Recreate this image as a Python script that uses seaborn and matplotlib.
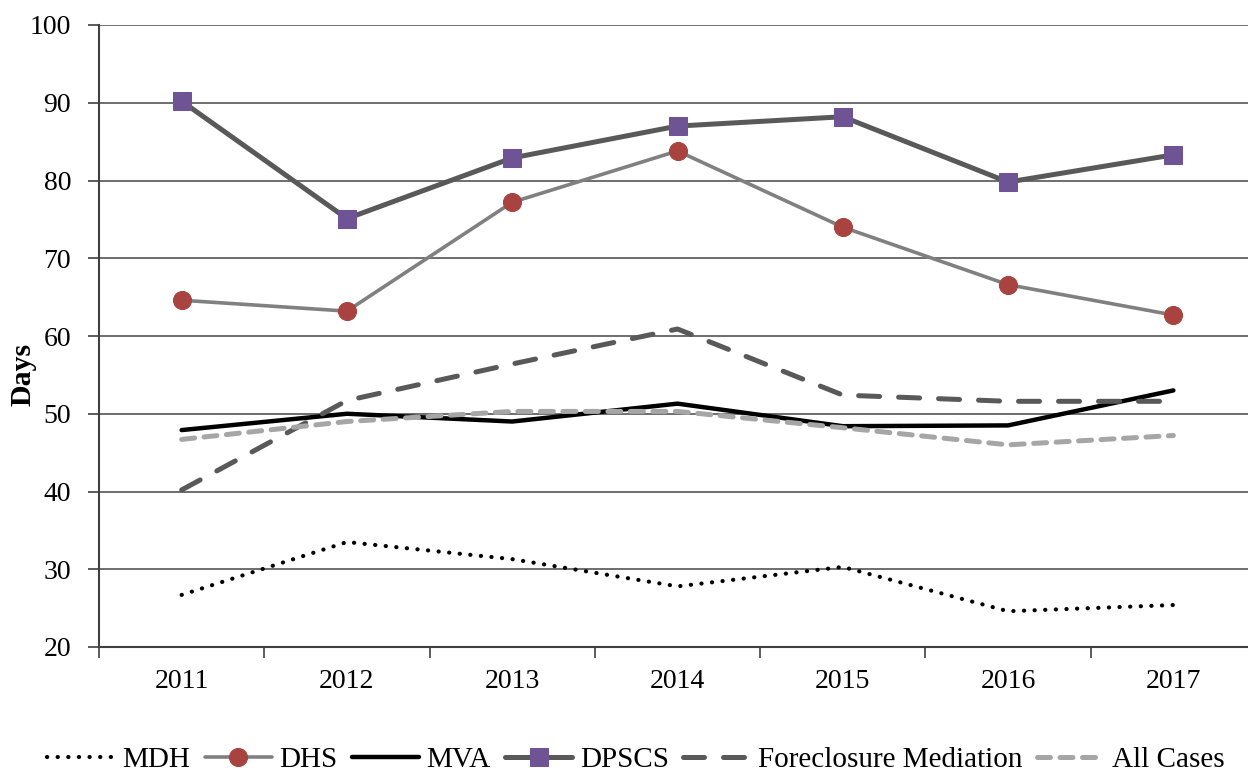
import matplotlib
matplotlib.use("Agg")
import matplotlib.pyplot as plt
import seaborn as sns
import pandas as pd

years = ["2011", "2012", "2013", "2014", "2015", "2016", "2017"]
mdh = [26.7, 33.5, 31.3, 27.8, 30.3, 24.6, 25.4]
dhs = [64.6, 63.2, 77.2, 83.8, 74.0, 66.6, 62.7]
mva = [47.9, 50.0, 49.0, 51.3, 48.4, 48.5, 53.0]
dpscs = [90.2, 75.1, 82.9, 87.0, 88.2, 79.8, 83.3]
foreclosure = [40.2, 51.7, 56.4, 60.9, 52.4, 51.6, 51.6]
all_cases = [46.7, 49.0, 50.3, 50.3, 48.2, 46.0, 47.2]

sns.set_theme(style="white")
plt.rcParams["font.family"] = ["Liberation Serif", "DejaVu Serif"]
plt.rcParams["text.color"] = "black"
plt.rcParams["xtick.labelcolor"] = "black"
plt.rcParams["ytick.labelcolor"] = "black"

fig = plt.figure(figsize=(12.48, 7.74), dpi=100)
ax = fig.add_axes([99 / 1248, 1 - 647 / 774, 1157 / 1248, (647 - 25) / 774])

pos = list(range(len(years)))
df = pd.DataFrame({"pos": pos, "MDH": mdh, "DHS": dhs, "MVA": mva, "DPSCS": dpscs,
                   "Foreclosure Mediation": foreclosure, "All Cases": all_cases})

styles = {
    "MDH": dict(color="black", lw=3.0, dashes=(0.05, 2.5)),
    "DHS": dict(color="#808080", lw=2.6, marker="o", markersize=13,
                markerfacecolor="#A8433F", markeredgecolor="#A8433F"),
    "MVA": dict(color="black", lw=3.2),
    "DPSCS": dict(color="#595959", lw=3.6, marker="s", markersize=13,
                  markerfacecolor="#6F5495", markeredgecolor="#6F5495"),
    "Foreclosure Mediation": dict(color="#595959", lw=3.6, dashes=(4.2, 3.8)),
    "All Cases": dict(color="#A6A6A6", lw=3.6, dashes=(2.6, 1.9)),
}

for name, st in styles.items():
    st = dict(st)
    dashes = st.pop("dashes", None)
    sns.lineplot(data=df, x="pos", y=name, ax=ax, label=name, **st)
    line = ax.lines[-1]
    if dashes is not None:
        line.set_dashes(dashes)
    line.set_dash_capstyle("round")
    line.set_solid_capstyle("round")
    line.set_zorder(3)

ax.set_xlim(-0.5, 6.5)
ax.set_ylim(20, 100)
ax.set_yticks(range(20, 101, 10))
ax.set_xticks(pos)
ax.set_xticklabels(years)
ax.set_xticks([p - 0.5 for p in pos] + [6.5], minor=True)
ax.tick_params(axis="x", which="major", bottom=True, length=0, labelsize=20, pad=16,
               labelcolor="black")
ax.tick_params(axis="x", which="minor", bottom=True, length=8, width=1.2, color="#404040",
               direction="out")
ax.tick_params(axis="y", left=True, length=8, width=1.2, color="#404040", direction="out",
               labelsize=20, pad=12, labelcolor="black")
ax.set_xlabel("")
ax.set_ylabel("")
fig.text(23 / 1248, 1 - 374 / 774, "Days", rotation=90, ha="center", va="center",
         fontsize=21.5, fontweight="bold", color="black")
ax.yaxis.grid(True, color="#555555", lw=1.2)
ax.set_axisbelow(True)
for side in ["top", "right"]:
    ax.spines[side].set_visible(False)
for side in ["left", "bottom"]:
    ax.spines[side].set_color("#404040")
    ax.spines[side].set_linewidth(1.5)

handles, labels = ax.get_legend_handles_labels()
ax.legend(handles, labels, loc="center", bbox_to_anchor=(636 / 1248, 1 - 760 / 774),
          bbox_transform=fig.transFigure, ncol=6, frameon=False, fontsize=21,
          handlelength=2.3, handletextpad=0.26, columnspacing=0.5, borderaxespad=0,
          borderpad=0, labelcolor="black")

fig.savefig("out.png", dpi=100)
